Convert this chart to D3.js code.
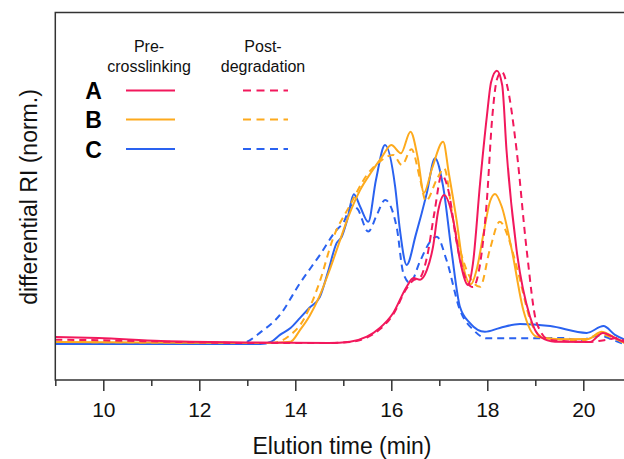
<!DOCTYPE html>
<html><head><meta charset="utf-8">
<script src="https://cdn.jsdelivr.net/npm/d3@7"></script>
<style>
body{margin:0;background:#fff;}
svg{display:block;font-family:"Liberation Sans",Arial,Helvetica,sans-serif;}
</style></head>
<body><svg id="c" width="624" height="459"></svg>
<script>
const xTicksMajor = [10, 12, 14, 16, 18, 20];
const xTicksMinor = [9, 11, 13, 15, 17, 19, 21];
const seriesNames = ["A", "B", "C"];
const colors = ["#f2185c", "#fdaa1d", "#2a62f0"];

const aPre = [[9.0,0.022],[9.9,0.018],[11.2,0.007],[13.0,0.002],[14.7,0.0],[15.14,0.005],[15.49,0.023],[15.76,0.055],[16.04,0.11],[16.32,0.206],[16.46,0.238],[16.6,0.232],[16.74,0.267],[16.87,0.353],[16.98,0.487],[17.1,0.542],[17.29,0.451],[17.43,0.304],[17.6,0.212],[17.7,0.29],[17.85,0.586],[17.99,0.829],[18.08,0.956],[18.2,0.997],[18.31,0.945],[18.4,0.707],[18.61,0.341],[18.89,0.096],[19.1,0.023],[19.41,0.005],[20.14,0.004],[20.41,0.037],[20.66,0.018],[20.9,0.0]];
const aPost = [[9.0,0.012],[10,0.01],[11.5,0.004],[13,0.0],[14.7,0.0],[15.14,0.004],[15.49,0.02],[15.76,0.05],[16.04,0.105],[16.32,0.2],[16.46,0.23],[16.6,0.24],[16.75,0.32],[16.9,0.48],[17.05,0.615],[17.2,0.55],[17.35,0.38],[17.5,0.26],[17.7,0.205],[17.85,0.29],[17.99,0.52],[18.1,0.82],[18.2,0.965],[18.3,0.994],[18.41,0.945],[18.61,0.707],[18.82,0.341],[19.03,0.073],[19.3,0.011],[20.1,0.004],[20.5,0.012],[20.7,0.018],[20.9,0.0]];
const bPre = [[9.0,0.004],[11,0.002],[13.4,0.0],[13.9,0.005],[14.1,0.048],[14.3,0.1],[14.5,0.17],[14.7,0.26],[14.9,0.36],[15.1,0.46],[15.35,0.56],[15.6,0.63],[15.8,0.68],[16.0,0.725],[16.2,0.695],[16.4,0.774],[16.55,0.68],[16.68,0.55],[16.85,0.64],[17.08,0.737],[17.2,0.62],[17.36,0.45],[17.5,0.28],[17.66,0.215],[17.78,0.27],[17.92,0.40],[18.06,0.52],[18.16,0.546],[18.3,0.5],[18.51,0.341],[18.75,0.121],[19.03,0.023],[19.5,0.014],[20.1,0.015],[20.38,0.041],[20.6,0.025],[20.9,-0.005]];
const bPost = [[9.0,0.004],[11,0.002],[13.5,0.0],[13.7,0.007],[13.9,0.03],[14.1,0.066],[14.3,0.13],[14.5,0.22],[14.79,0.385],[15.14,0.505],[15.49,0.615],[15.8,0.67],[16.04,0.689],[16.22,0.652],[16.42,0.71],[16.6,0.6],[16.72,0.52],[16.95,0.6],[17.1,0.64],[17.3,0.44],[17.45,0.33],[17.57,0.267],[17.85,0.206],[18.05,0.34],[18.26,0.444],[18.45,0.38],[18.61,0.28],[18.95,0.06],[19.2,0.018],[20.0,0.01],[20.35,0.033],[20.6,0.02],[20.9,-0.005]];
const cPre = [[9.0,-0.004],[11,-0.004],[13.27,-0.004],[13.5,0.005],[13.68,0.03],[13.9,0.055],[14.1,0.092],[14.3,0.13],[14.51,0.168],[14.68,0.26],[14.86,0.366],[14.97,0.39],[15.08,0.45],[15.22,0.545],[15.35,0.5],[15.52,0.444],[15.68,0.597],[15.87,0.725],[16.08,0.573],[16.18,0.414],[16.32,0.286],[16.51,0.396],[16.74,0.549],[16.91,0.677],[17.08,0.573],[17.26,0.33],[17.43,0.133],[17.64,0.073],[17.95,0.041],[18.26,0.055],[18.68,0.07],[19.31,0.062],[20.07,0.037],[20.42,0.062],[20.66,0.03],[20.9,0.01]];
const cPost = [[9.0,-0.004],[11,-0.004],[12.85,-0.004],[13.05,0.01],[13.26,0.037],[13.68,0.103],[14.1,0.22],[14.51,0.322],[14.86,0.414],[15.0,0.44],[15.18,0.505],[15.3,0.49],[15.52,0.408],[15.7,0.47],[15.87,0.524],[16.11,0.426],[16.25,0.256],[16.39,0.22],[16.6,0.3],[16.81,0.371],[16.95,0.389],[17.15,0.304],[17.43,0.121],[17.71,0.048],[17.99,0.017],[19.58,0.018],[19.9,0.01],[20.35,0.028],[20.6,0.012],[20.9,-0.007]];

const pre = [aPre, bPre, cPre];
const post = [aPost, bPost, cPost];

const svg = d3.select("#c");
const pLeft = 55.3, pTop = 12.5, pBottom = 380;
const x = d3.scaleLinear().domain([9, 21.2]).range([pLeft, pLeft + 12.2 * 48]);
const y = d3.scaleLinear().domain([-0.1355, 1.2106]).range([pBottom, pTop]);

svg.append("clipPath").attr("id", "clip").append("rect")
  .attr("x", pLeft).attr("y", pTop).attr("width", 700).attr("height", pBottom - pTop);

const line = d3.line().x(d => x(d[0])).y(d => y(d[1])).curve(d3.curveMonotoneX);

const g = svg.append("g").attr("clip-path", "url(#clip)");
for (let i = 2; i >= 0; i--) {
  g.append("path").datum(post[i]).attr("d", line).attr("fill", "none")
    .attr("stroke", colors[i]).attr("stroke-width", 2).attr("stroke-dasharray", "7,5");
  g.append("path").datum(pre[i]).attr("d", line).attr("fill", "none")
    .attr("stroke", colors[i]).attr("stroke-width", 2);
}

// frame
svg.append("path").attr("d", `M${x(21.2)},${pTop}H${pLeft}V${pBottom}H${x(21.2)}`)
  .attr("fill", "none").attr("stroke", "#333").attr("stroke-width", 1.5);

const axMaj = d3.axisBottom(x).tickValues(xTicksMajor).tickSize(11).tickSizeOuter(0).tickPadding(11).tickFormat(d3.format("d"));
const ga = svg.append("g").attr("transform", `translate(0,${pBottom})`).call(axMaj);
ga.select(".domain").remove();
ga.selectAll(".tick line").attr("stroke", "#333").attr("stroke-width", 1.5);
ga.selectAll(".tick text").attr("font-size", 21).attr("fill", "#111").attr("font-family", "Liberation Sans, Arial, sans-serif");
const axMin = d3.axisBottom(x).tickValues(xTicksMinor).tickSize(6).tickSizeOuter(0).tickFormat("");
const gm = svg.append("g").attr("transform", `translate(0,${pBottom})`).call(axMin);
gm.select(".domain").remove();
gm.selectAll(".tick line").attr("stroke", "#333").attr("stroke-width", 1.5);

svg.append("text").attr("x", 342).attr("y", 454).attr("text-anchor", "middle")
  .attr("font-size", 23).attr("fill", "#111").text("Elution time (min)");
svg.append("text").attr("transform", "translate(37,197) rotate(-90)").attr("text-anchor", "middle")
  .attr("font-size", 23).attr("fill", "#111").text("differential RI (norm.)");

// legend
const lg = svg.append("g");
const hdr = [["Pre-", "crosslinking", 149], ["Post-", "degradation", 263]];
hdr.forEach(h => {
  lg.append("text").attr("x", h[2]).attr("y", 52).attr("text-anchor", "middle").attr("font-size", 16).attr("fill", "#111").text(h[0]);
  lg.append("text").attr("x", h[2]).attr("y", 72).attr("text-anchor", "middle").attr("font-size", 16).attr("fill", "#111").text(h[1]);
});
const rowY = [90.5, 119.5, 149];
seriesNames.forEach((n, i) => {
  lg.append("text").attr("x", 93.5).attr("y", rowY[i] + 8.5).attr("text-anchor", "middle")
    .attr("font-size", 23).attr("font-weight", "bold").attr("fill", "#000").text(n);
  lg.append("line").attr("x1", 126).attr("x2", 175).attr("y1", rowY[i]).attr("y2", rowY[i])
    .attr("stroke", colors[i]).attr("stroke-width", 2);
  lg.append("line").attr("x1", 243).attr("x2", 288).attr("y1", rowY[i]).attr("y2", rowY[i])
    .attr("stroke", colors[i]).attr("stroke-width", 2).attr("stroke-dasharray", "8,5.5");
});
</script></body></html>
